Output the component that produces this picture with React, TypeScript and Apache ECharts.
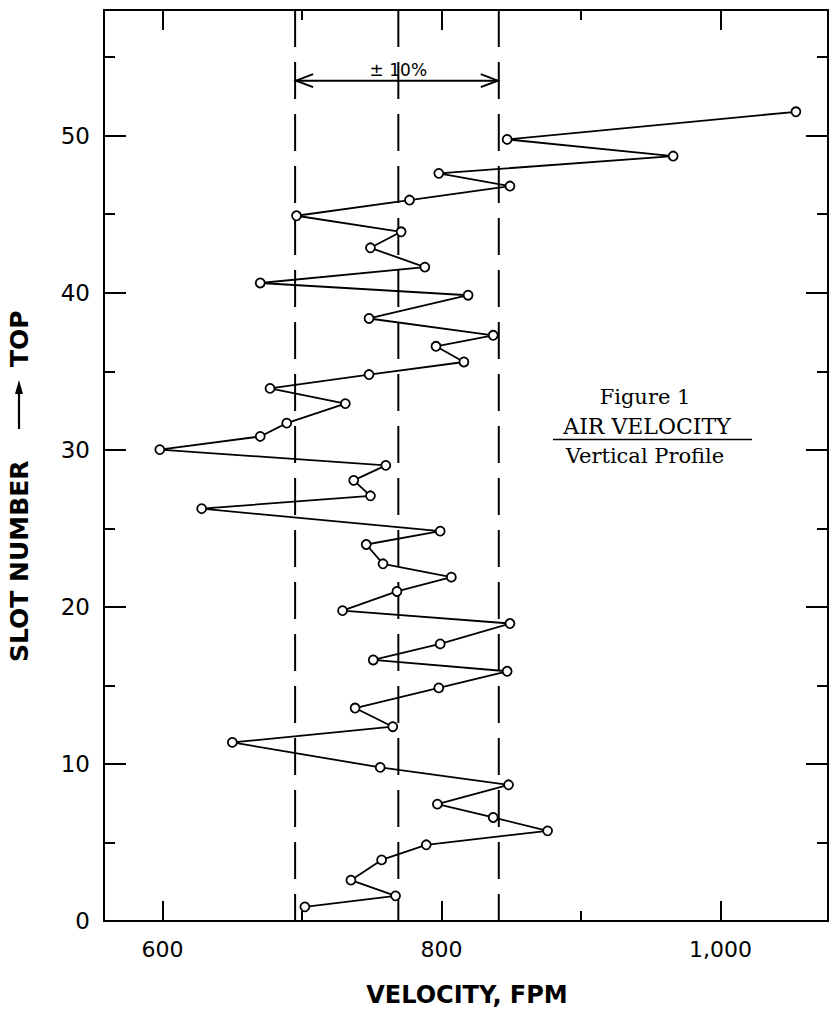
import React, { useEffect, useRef } from 'react';
import * as echarts from 'echarts';

// Slot position (vertical) and measured air velocity (FPM), bottom to top
const slotPositions = [
  0.9, 1.6, 2.6, 3.89, 4.85, 5.74, 6.59, 7.44, 8.67, 9.78,
  11.37, 12.37, 13.56, 14.84, 15.9, 16.62, 17.64, 18.94, 19.76, 20.98,
  21.89, 22.74, 23.97, 24.82, 26.25, 27.07, 28.05, 29.01, 30.01, 30.85,
  31.7, 32.94, 33.91, 34.79, 35.59, 36.59, 37.29, 38.36, 39.84, 40.62,
  41.63, 42.86, 43.88, 44.9, 45.9, 46.79, 47.6, 48.7, 49.76, 51.52,
];
const velocities = [
  702, 767, 735, 757, 789, 876, 837, 797, 848, 756,
  650, 765, 738, 798, 847, 751, 799, 849, 729, 768,
  807, 758, 746, 799, 628, 749, 737, 760, 598, 670,
  689, 731, 677, 748, 816, 796, 837, 748, 819, 670,
  788, 749, 771, 696, 777, 849, 798, 966, 847, 1054,
];

// Dashed reference lines: -10%, mean, +10%
const limitLines = [695, 769, 841];
const bandLabel = '± 10%';
const bandArrowSlot = 53.5;
const bandLabelSlot = 54.2;

const xMajorTicks = [600, 800, 1000];
const xMajorLabels = ['600', '800', '1,000'];
const xMinorTicks = [700, 900];
const yMajorTicks = [0, 10, 20, 30, 40, 50];
const yMinorTicks = [5, 15, 25, 35, 45, 55];

const X_MIN = 558;
const X_MAX = 1077;
const Y_MIN = 0;
const Y_MAX = 58;

const SANS = 'DejaVu Sans';
const SERIF = 'DejaVu Serif';

function makeX(position: string, ticks: number[], len: number, labels: boolean) {
  return {
    type: 'value',
    min: X_MIN,
    max: X_MAX,
    position,
    splitLine: { show: false },
    axisLine: { show: true, onZero: false, lineStyle: { color: '#000', width: 2 } },
    axisTick: {
      show: true,
      inside: true,
      length: len,
      customValues: ticks,
      lineStyle: { color: '#000', width: 2 },
    },
    axisLabel: labels
      ? {
          show: true,
          customValues: xMajorTicks,
          formatter: (v: number) => {
            const i = xMajorTicks.indexOf(v);
            return i >= 0 ? xMajorLabels[i] : '';
          },
          margin: 17,
          color: '#000',
          fontSize: 22,
          fontFamily: SANS,
        }
      : { show: false },
  };
}

function makeY(position: string, ticks: number[], len: number, labels: boolean) {
  return {
    type: 'value',
    min: Y_MIN,
    max: Y_MAX,
    position,
    splitLine: { show: false },
    axisLine: { show: true, onZero: false, lineStyle: { color: '#000', width: 2 } },
    axisTick: {
      show: true,
      inside: true,
      length: len,
      customValues: ticks,
      lineStyle: { color: '#000', width: 2 },
    },
    axisLabel: labels
      ? {
          show: true,
          customValues: yMajorTicks,
          formatter: (v: number) => String(v),
          margin: 14,
          color: '#000',
          fontSize: 23,
          fontFamily: SANS,
        }
      : { show: false },
  };
}

export default function App() {
  const ref = useRef<HTMLDivElement>(null);

  useEffect(() => {
    if (!ref.current) return;
    const chart = echarts.init(ref.current, undefined, { renderer: 'svg' });

    const profile = slotPositions.map((s, i) => [velocities[i], s]);

    const dashedSeries = limitLines.map((v) => ({
      type: 'line',
      data: [
        [v, Y_MAX],
        [v, Y_MIN],
      ],
      symbol: 'none',
      silent: true,
      z: 1,
      lineStyle: { color: '#000', width: 2, type: [37, 15] },
    }));

    chart.setOption({
      animation: false,
      backgroundColor: '#fff',
      grid: { left: 104, right: 2, top: 10, bottom: 92, containLabel: false },
      xAxis: [
        makeX('bottom', xMajorTicks, 20, true),
        makeX('bottom', xMinorTicks, 10, false),
        makeX('top', xMajorTicks, 20, false),
        makeX('top', xMinorTicks, 10, false),
      ],
      yAxis: [
        makeY('left', yMajorTicks, 22, true),
        makeY('left', yMinorTicks, 11, false),
        makeY('right', yMajorTicks, 22, false),
        makeY('right', yMinorTicks, 11, false),
      ],
      series: [
        ...dashedSeries,
        {
          type: 'line',
          data: profile,
          z: 3,
          symbol: 'circle',
          symbolSize: 9,
          lineStyle: { color: '#000', width: 1.8 },
          itemStyle: { color: '#fff', borderColor: '#000', borderWidth: 1.8 },
        },
      ],
    });

    const xl = chart.convertToPixel({ xAxisIndex: 0 }, limitLines[0]) as number;
    const xm = chart.convertToPixel({ xAxisIndex: 0 }, limitLines[1]) as number;
    const xr = chart.convertToPixel({ xAxisIndex: 0 }, limitLines[2]) as number;
    const ya = chart.convertToPixel({ yAxisIndex: 0 }, bandArrowSlot) as number;
    const yl = chart.convertToPixel({ yAxisIndex: 0 }, bandLabelSlot) as number;

    const stroke = { stroke: '#000', lineWidth: 2, fill: 'none' };
    const txt = (text: string, x: number, y: number, size: number, family: string, weight = 'normal', extra: any = {}) => ({
      type: 'text',
      x,
      y,
      ...extra,
      style: {
        text,
        fill: '#000',
        fontSize: size,
        fontFamily: family,
        fontWeight: weight,
        align: extra.align || 'center',
        textAlign: extra.align || 'center',
        verticalAlign: 'middle',
        textVerticalAlign: 'middle',
      },
    });

    chart.setOption({
      graphic: [
        // band arrow
        { type: 'line', shape: { x1: xl, y1: ya, x2: xr, y2: ya }, style: stroke },
        { type: 'polyline', shape: { points: [[xl + 18, ya - 6.5], [xl + 1, ya], [xl + 18, ya + 6.5]] }, style: stroke },
        { type: 'polyline', shape: { points: [[xr - 18, ya - 6.5], [xr - 1, ya], [xr - 18, ya + 6.5]] }, style: stroke },
        txt(bandLabel, xm, yl, 17, SANS),
        // figure caption
        txt('Figure 1', 645, 397, 21, SERIF),
        txt('AIR VELOCITY', 647, 426, 22, SERIF),
        { type: 'line', shape: { x1: 553, y1: 439.5, x2: 752, y2: 439.5 }, style: { stroke: '#000', lineWidth: 1.5 } },
        txt('Vertical Profile', 645, 456, 21, SERIF),
        // axis titles
        txt('VELOCITY, FPM', 467, 995, 24, SANS, 'bold'),
        txt('SLOT NUMBER', 19, 662, 25, SANS, 'bold', { rotation: Math.PI / 2, align: 'left' }),
        { type: 'line', shape: { x1: 19, y1: 429, x2: 19, y2: 390 }, style: { stroke: '#000', lineWidth: 2.2 } },
        { type: 'polygon', shape: { points: [[15, 394], [19, 380], [23, 394]] }, style: { fill: '#000' } },
        txt('TOP', 19, 367, 25, SANS, 'bold', { rotation: Math.PI / 2, align: 'left' }),
      ],
    });

    return () => chart.dispose();
  }, []);

  return (
    <div
      ref={ref}
      style={{ position: 'absolute', left: 0, top: 0, width: 830, height: 1013, background: '#fff' }}
    />
  );
}
